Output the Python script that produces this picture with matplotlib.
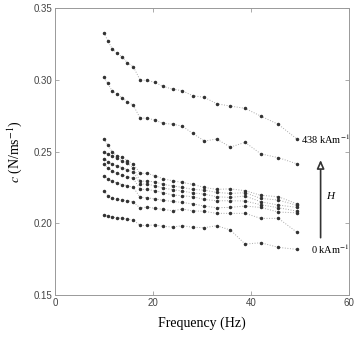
#!/usr/bin/env python3
# -*- coding: utf-8 -*-

import numpy as np
import matplotlib
matplotlib.use("Agg")
import matplotlib.pyplot as plt

plt.rcParams["mathtext.fontset"] = "stix"

# frequencies (Hz)
freq = [10.0, 10.8, 11.7, 12.7, 13.7, 14.8, 16.0, 17.4, 18.8, 20.4, 22.1,
        24.0, 26.0, 28.1, 30.5, 33.0, 35.8, 38.8, 42.0, 45.6, 49.3]

# damping c (N/ms^-1), top (438 kA/m) to bottom (0 kA/m)
c_438 = [0.3328, 0.3272, 0.3216, 0.3184, 0.3161, 0.3119, 0.3091, 0.2998, 0.2996, 0.2982, 0.2954,
         0.2935, 0.2924, 0.2889, 0.2878, 0.2833, 0.2817, 0.2801, 0.2747, 0.2689, 0.2589]
c_2 = [0.3017, 0.2975, 0.2921, 0.2901, 0.2875, 0.2847, 0.2822, 0.2733, 0.2733, 0.2719, 0.2696,
       0.2691, 0.2677, 0.2627, 0.2573, 0.2587, 0.2531, 0.2564, 0.2484, 0.2457, 0.2415]
c_3 = [0.2587, 0.2545, 0.2498, 0.2468, 0.2464, 0.2436, 0.2413, 0.2348, 0.2348, 0.2331, 0.2310,
       0.2296, 0.2285, 0.2271, 0.2250, 0.2236, 0.2240, 0.2227, 0.2195, 0.2185, 0.2136]
c_4 = [0.2498, 0.2482, 0.2468, 0.2452, 0.2436, 0.2418, 0.2387, 0.2294, 0.2294, 0.2289, 0.2271,
       0.2261, 0.2250, 0.2236, 0.2231, 0.2215, 0.2208, 0.2213, 0.2173, 0.2162, 0.2125]
c_5 = [0.2450, 0.2430, 0.2412, 0.2398, 0.2388, 0.2372, 0.2355, 0.2275, 0.2272, 0.2262, 0.2245,
       0.2235, 0.2224, 0.2212, 0.2203, 0.2185, 0.2180, 0.2190, 0.2150, 0.2127, 0.2111]
c_6 = [0.2411, 0.2387, 0.2366, 0.2348, 0.2337, 0.2325, 0.2313, 0.2236, 0.2236, 0.2227, 0.2213,
       0.2197, 0.2192, 0.2185, 0.2166, 0.2157, 0.2157, 0.2155, 0.2129, 0.2108, 0.2085]
c_7 = [0.2331, 0.2310, 0.2292, 0.2280, 0.2270, 0.2262, 0.2250, 0.2180, 0.2178, 0.2170, 0.2160,
       0.2152, 0.2145, 0.2135, 0.2120, 0.2108, 0.2111, 0.2120, 0.2110, 0.2078, 0.2073]
c_8 = [0.2227, 0.2192, 0.2173, 0.2166, 0.2162, 0.2157, 0.2148, 0.2106, 0.2113, 0.2104, 0.2097,
       0.2087, 0.2099, 0.2087, 0.2083, 0.2069, 0.2069, 0.2069, 0.2034, 0.2034, 0.1939]
c_0 = [0.2055, 0.2050, 0.2043, 0.2038, 0.2034, 0.2029, 0.2022, 0.1985, 0.1985, 0.1988, 0.1978,
       0.1974, 0.1983, 0.1972, 0.1969, 0.1983, 0.1953, 0.1855, 0.1864, 0.1832, 0.1818]

series = [c_438, c_2, c_3, c_4, c_5, c_6, c_7, c_8, c_0]

serif = "Liberation Serif"
sans = "Liberation Sans"

fig = plt.figure(figsize=(3.54, 3.52), dpi=100)
ax = fig.add_axes([0.155, 0.162, 0.831, 0.815])

for s in series:
    ax.plot(freq, s, linestyle=":", color="#aaaaaa", linewidth=0.7,
            marker=".", markersize=3.0, markerfacecolor="#333333",
            markeredgecolor="#333333")

ax.set_xlim(0, 60)
ax.set_ylim(0.15, 0.35)
ax.set_xticks([0, 20, 40, 60])
ax.set_yticks([0.15, 0.20, 0.25, 0.30, 0.35])
ax.set_yticklabels(["0.15", "0.20", "0.25", "0.30", "0.35"])
ax.tick_params(direction="in", length=3, width=0.5, colors="#888888",
               labelcolor="#444444", labelsize=7, top=True, right=True, pad=2)
for lab in ax.get_xticklabels() + ax.get_yticklabels():
    lab.set_family(sans)
for sp in ax.spines.values():
    sp.set_color("#999999")
    sp.set_linewidth(0.7)

ax.set_xlabel("Frequency (Hz)", fontfamily=serif, fontsize=10, labelpad=6.5)
ax.set_ylabel(r"$c$ (N/ms$^{-1}$)", fontfamily=serif, fontsize=10, labelpad=7)

ax.text(50.3, c_438[-1], r"438 kAm$^{-1}$", fontfamily=serif, fontsize=7.5,
        va="center", ha="left")
ax.text(52.3, c_0[-1], r"0 kAm$^{-1}$", fontfamily=serif, fontsize=7.5,
        va="center", ha="left")
ax.annotate("", xy=(54.2, 0.246), xytext=(54.2, 0.188),
            arrowprops=dict(arrowstyle="-|>,head_length=0.5,head_width=0.22",
                            edgecolor="#333333", facecolor="white", lw=1.2))
ax.text(56.2, 0.2185, "H", fontfamily=serif, fontstyle="italic", fontsize=8,
        va="center", ha="center")

fig.savefig("out.png", dpi=100)
